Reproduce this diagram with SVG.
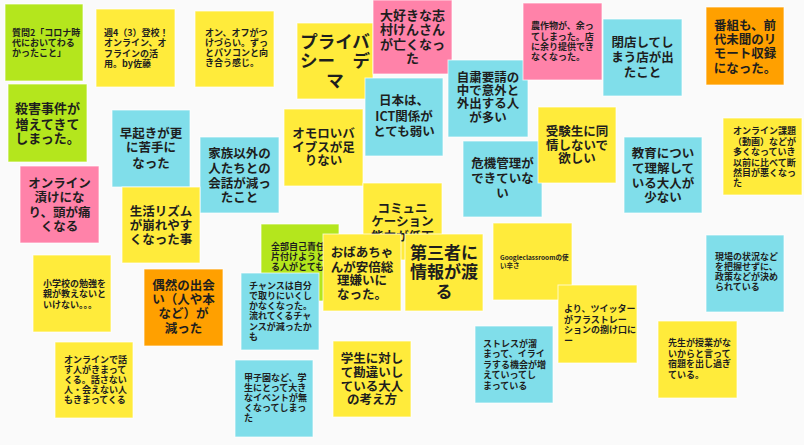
<svg xmlns="http://www.w3.org/2000/svg" width="804" height="445" viewBox="0 0 804 445">
<style>
.bg{fill:#fafafa}
.n{stroke:#ffffff;stroke-opacity:0.7;stroke-width:1}
.g{fill:#b4e61d}.y{fill:#ffeb3b}.p{fill:#ff82a9}.c{fill:#80deea}.o{fill:#ffa000}
text{font-family:"Noto Sans CJK JP","Noto Sans",sans-serif;font-weight:700;fill:#1e1e1e}
.s{font-size:9px}
.m{font-size:12.5px;text-anchor:middle}
.b{font-size:17.5px;text-anchor:middle}
.t{font-size:6.5px}
</style>
<rect class="bg" x="0" y="0" width="804" height="445"/>
<g id="connectors"></g>

<g id="n1"><rect class="n g" x="5" y="4" width="78" height="77"/>
<text class="s"><tspan x="12" y="35.6">質問2「コロナ時</tspan><tspan x="12" y="46">代においてわる</tspan><tspan x="12" y="56">かったこと」</tspan></text></g>

<g id="n2"><rect class="n y" x="96" y="9" width="79" height="78"/>
<text class="s"><tspan x="104" y="35.5">週4（3）登校！</tspan><tspan x="104" y="46">オンライン、オ</tspan><tspan x="104" y="56.5">フラインの活</tspan><tspan x="104" y="66.5">用。by佐藤</tspan></text></g>

<g id="n3"><rect class="n y" x="195" y="11" width="79" height="76"/>
<text class="s"><tspan x="205" y="36.3">オン、オフがつ</tspan><tspan x="205" y="46.3">けづらい。ずっ</tspan><tspan x="205" y="56.3">とパソコンと向</tspan><tspan x="205" y="66.3">き合う感じ。</tspan></text></g>

<g id="n4"><rect class="n y" x="297" y="23" width="76" height="76"/>
<text class="b"><tspan x="335" y="48.2">プライバ</tspan><tspan x="335" y="66.5">シー　デ</tspan><tspan x="335" y="86.5">マ</tspan></text></g>

<g id="n5"><rect class="n p" x="373" y="0" width="79" height="74"/>
<text class="m" style="font-size:13px"><tspan x="412.5" y="20">大好きな志</tspan><tspan x="412.5" y="34">村けんさん</tspan><tspan x="412.5" y="48.5">が亡くなっ</tspan><tspan x="412.5" y="63">た</tspan></text></g>

<g id="n6"><rect class="n c" x="365" y="78" width="78" height="78"/>
<text class="m"><tspan x="404" y="104.6">日本は、</tspan><tspan x="404" y="121.3">ICT関係が</tspan><tspan x="404" y="136.3">とても弱い</tspan></text></g>

<g id="n7"><rect class="n c" x="448" y="60" width="80" height="77"/>
<text class="m"><tspan x="488" y="81.9">自粛要請の</tspan><tspan x="488" y="94.6">中で意外と</tspan><tspan x="488" y="107.9">外出する人</tspan><tspan x="488" y="121.9">が多い</tspan></text></g>

<g id="n8"><rect class="n p" x="523" y="3" width="79" height="77"/>
<text class="s"><tspan x="531" y="29.3">農作物が、余っ</tspan><tspan x="531" y="40.3">てしまった。店</tspan><tspan x="531" y="50.3">に余り提供でき</tspan><tspan x="531" y="60.3">なくなった。</tspan></text></g>

<g id="n9"><rect class="n c" x="603" y="19" width="79" height="77"/>
<text class="m"><tspan x="642.5" y="46.6">閉店してし</tspan><tspan x="642.5" y="61.6">まう店が出</tspan><tspan x="642.5" y="76.6">たこと</tspan></text></g>

<g id="n10"><rect class="n o" x="706" y="7" width="78" height="78"/>
<text class="m"><tspan x="745" y="29.6">番組も、前</tspan><tspan x="745" y="43.6">代未聞のリ</tspan><tspan x="745" y="57.6">モート収録</tspan><tspan x="745" y="72.6">になった。</tspan></text></g>

<g id="n11"><rect class="n y" x="723" y="118" width="79" height="77"/>
<text class="s"><tspan x="733" y="133.5">オンライン課題</tspan><tspan x="733" y="144.8">（動画）などが</tspan><tspan x="733" y="155">多くなっていき</tspan><tspan x="733" y="165.5">以前に比べて断</tspan><tspan x="733" y="175.5">然目が悪くなっ</tspan><tspan x="733" y="186">た</tspan></text></g>

<g id="n12"><rect class="n g" x="8" y="84" width="79" height="78"/>
<text class="m" style="font-size:13px"><tspan x="47.5" y="113">殺害事件が</tspan><tspan x="47.5" y="128.5">増えてきて</tspan><tspan x="47.5" y="143">しまった。</tspan></text></g>

<g id="n13"><rect class="n c" x="112" y="110" width="78" height="77"/>
<text class="m"><tspan x="151" y="137.8">早起きが更</tspan><tspan x="151" y="152.3">に苦手に</tspan><tspan x="151" y="167.6">なった</tspan></text></g>

<g id="n14"><rect class="n p" x="20" y="166" width="79" height="77"/>
<text class="m"><tspan x="59.5" y="187.6">オンライン</tspan><tspan x="59.5" y="201.8">漬けにな</tspan><tspan x="59.5" y="216.6">り、頭が痛</tspan><tspan x="59.5" y="230.8">くなる</tspan></text></g>

<g id="n15"><rect class="n c" x="200" y="137" width="79" height="76"/>
<text class="m"><tspan x="239.5" y="157.8">家族以外の</tspan><tspan x="239.5" y="172.6">人たちとの</tspan><tspan x="239.5" y="187.6">会話が減っ</tspan><tspan x="239.5" y="201.8">たこと</tspan></text></g>

<g id="n16"><rect class="n y" x="284" y="109" width="79" height="77"/>
<text class="m"><tspan x="323.5" y="137.8">オモロいバ</tspan><tspan x="323.5" y="151.6">イブスが足</tspan><tspan x="323.5" y="164.8">りない</tspan></text></g>

<g id="n17"><rect class="n y" x="122" y="187" width="78" height="76"/>
<text class="m"><tspan x="161" y="215.6">生活リズム</tspan><tspan x="161" y="229.6">が崩れやす</tspan><tspan x="161" y="243.6">くなった事</tspan></text></g>

<g id="n18"><rect class="n c" x="463" y="141" width="79" height="76"/>
<text class="m"><tspan x="502.5" y="167.6">危機管理が</tspan><tspan x="502.5" y="182.6">できていな</tspan><tspan x="502.5" y="197.6">い</tspan></text></g>

<g id="n19"><rect class="n y" x="538" y="107" width="78" height="76"/>
<text class="m"><tspan x="577" y="136.4">受験生に同</tspan><tspan x="577" y="149.6">情しないで</tspan><tspan x="577" y="162.9">欲しい</tspan></text></g>

<g id="n20"><rect class="n c" x="624" y="137" width="78" height="76"/>
<text class="m"><tspan x="663" y="157.8">教育につい</tspan><tspan x="663" y="172.6">て理解して</tspan><tspan x="663" y="187.6">いる大人が</tspan><tspan x="663" y="201.8">少ない</tspan></text></g>

<g id="n21"><rect class="n y" x="363" y="183" width="79" height="77"/>
<text class="m"><tspan x="402.5" y="212.9">コミュニ</tspan><tspan x="402.5" y="226.3">ケーション</tspan><tspan x="402.5" y="240.5">能力が低下</tspan></text></g>

<g id="n22"><rect class="n g" x="261" y="224" width="78" height="77"/>
<text class="s"><tspan x="271" y="250.3">全部自己責任</tspan><tspan x="271" y="260.3">片付けようと</tspan><tspan x="271" y="270.3">る人がとても</tspan></text></g>

<g id="n23"><rect class="n y" x="323" y="234" width="78" height="77"/>
<text class="m"><tspan x="362" y="256.6">おばあちゃ</tspan><tspan x="362" y="271.6">んが安倍総</tspan><tspan x="362" y="284.8">理嫌いに</tspan><tspan x="362" y="298.6">なった。</tspan></text></g>

<g id="n24"><rect class="n y" x="405" y="234" width="78" height="77"/>
<text class="b" style="font-size:17px"><tspan x="444" y="259.3">第三者に</tspan><tspan x="444" y="278.3">情報が渡</tspan><tspan x="444" y="298.3">る</tspan></text></g>

<g id="n25"><rect class="n y" x="493" y="223" width="79" height="77"/>
<text class="t"><tspan x="500" y="260.4">Googleclassroomの使</tspan><tspan x="500" y="267.6">い辛さ</tspan></text></g>

<g id="n26"><rect class="n y" x="558" y="285" width="79" height="78"/>
<text class="s"><tspan x="564" y="312.3">より、ツイッター</tspan><tspan x="564" y="322.6">がフラストレー</tspan><tspan x="564" y="332.8">ションの捌け口に</tspan><tspan x="564" y="344">ー</tspan></text></g>

<g id="n27"><rect class="n c" x="706" y="235" width="78" height="77"/>
<text class="s"><tspan x="715" y="260.3">現場の状況など</tspan><tspan x="715" y="270.3">を把握せずに、</tspan><tspan x="715" y="280.3">政策などが決め</tspan><tspan x="715" y="290.3">られている</tspan></text></g>

<g id="n28"><rect class="n y" x="33" y="255" width="78" height="77"/>
<text class="s"><tspan x="43" y="286.5">小学校の勉強を</tspan><tspan x="43" y="297.3">親が教えないと</tspan><tspan x="43" y="308.3">いけない。。。</tspan></text></g>

<g id="n29"><rect class="n o" x="144" y="269" width="79" height="77"/>
<text class="m"><tspan x="183.5" y="289.6">偶然の出会</tspan><tspan x="183.5" y="304.4">い（人や本</tspan><tspan x="183.5" y="317.8">など）が</tspan><tspan x="183.5" y="332.6">減った</tspan></text></g>

<g id="n30"><rect class="n c" x="241" y="273" width="78" height="77"/>
<text class="s"><tspan x="249" y="289">チャンスは自分</tspan><tspan x="249" y="298.6">で取りにいくし</tspan><tspan x="249" y="308.6">かなくなった。</tspan><tspan x="249" y="318.6">流れてくるチャ</tspan><tspan x="249" y="330">ンスが減ったか</tspan><tspan x="249" y="340">も</tspan></text></g>

<g id="n31"><rect class="n y" x="55" y="342" width="78" height="76"/>
<text class="s"><tspan x="64" y="363.3">オンラインで話</tspan><tspan x="64" y="373.3">す人がきまって</tspan><tspan x="64" y="383.3">くる。話さない</tspan><tspan x="64" y="393.3">人・会えない人</tspan><tspan x="64" y="403.3">もきまってくる</tspan></text></g>

<g id="n32"><rect class="n c" x="235" y="360" width="78" height="77"/>
<text class="s"><tspan x="244" y="381.3">甲子園など、学</tspan><tspan x="244" y="391.3">生にとって大き</tspan><tspan x="244" y="401.3">なイベントが無</tspan><tspan x="244" y="411.3">くなってしまっ</tspan><tspan x="244" y="421.3">た</tspan></text></g>

<g id="n33"><rect class="n y" x="333" y="341" width="78" height="76"/>
<text class="m"><tspan x="372" y="362.8">学生に対し</tspan><tspan x="372" y="376.6">て勘違いし</tspan><tspan x="372" y="390.6">ている大人</tspan><tspan x="372" y="404">の考え方</tspan></text></g>

<g id="n34"><rect class="n c" x="475" y="326" width="78" height="77"/>
<text class="s"><tspan x="483" y="346.5">ストレスが溜</tspan><tspan x="483" y="357">まって、イライ</tspan><tspan x="483" y="367.5">ラする機会が増</tspan><tspan x="483" y="378.3">えていってし</tspan><tspan x="483" y="389">まっている</tspan></text></g>

<g id="n35"><rect class="n y" x="658" y="321" width="79" height="77"/>
<text class="s"><tspan x="668" y="346.3">先生が授業がな</tspan><tspan x="668" y="356.6">いからと言って</tspan><tspan x="668" y="367.3">宿題を出し過ぎ</tspan><tspan x="668" y="378.3">ている。</tspan></text></g>
</svg>
